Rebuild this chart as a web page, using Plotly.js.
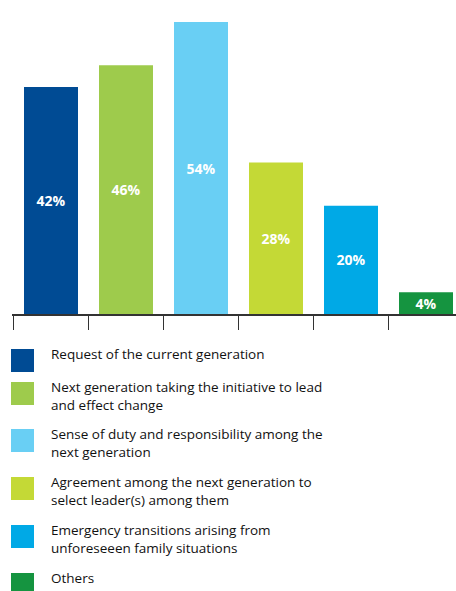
<!DOCTYPE html>
<html>
<head>
<meta charset="utf-8">
<script src="https://cdn.plot.ly/plotly-3.0.1.min.js"></script>
<style>
html,body{margin:0;padding:0;background:#fff;}
#chart{width:456px;height:591px;}
</style>
</head>
<body>
<div id="chart"></div>
<script>
const categories = [
  "Request of the current generation",
  "Next generation taking the initiative to lead<br>and effect change",
  "Sense of duty and responsibility among the<br>next generation",
  "Agreement among the next generation to<br>select leader(s) among them",
  "Emergency transitions arising from<br>unforeseeen family situations",
  "Others"
];
const values = [42, 46, 54, 28, 20, 4];
const valueLabels = ["42%", "46%", "54%", "28%", "20%", "4%"];
const colors = ["#004b94", "#9ecb4c", "#69cff4", "#c4d936", "#00a9e6", "#159440"];

const W = 456, H = 591, baseY = 314;
const idx = values.map((v, i) => i);

function py(p) { return (baseY - p) / baseY; } // pixel y -> paper y

const swatchTops = [349, 382, 429, 477, 525, 573];
const shapes = [], annotations = [];
categories.forEach((c, i) => {
  shapes.push({
    type: "rect", xref: "paper", yref: "paper",
    x0: (11 - 12) / (W - 12), x1: (34 - 12) / (W - 12),
    y0: py(swatchTops[i] + 23), y1: py(swatchTops[i]),
    fillcolor: colors[i], line: {width: 0}
  });
  annotations.push({
    xref: "paper", yref: "paper",
    x: (49 - 12) / (W - 12), y: py(swatchTops[i] - 6),
    xanchor: "left", yanchor: "top", align: "left",
    showarrow: false, text: c,
    font: {family: "Open Sans", size: 13.5, color: "#111"}
  });
});

const trace = {
  type: "bar",
  x: idx,
  y: values,
  width: 0.72,
  marker: {color: colors},
  text: valueLabels,
  textposition: "inside",
  insidetextanchor: "middle",
  textangle: 0,
  constraintext: "none",
  textfont: {family: "Open Sans", size: 14, color: "#fff", weight: "bold"},
  hoverinfo: "none"
};

const layout = {
  width: W, height: H,
  margin: {l: 12, r: 0, t: 0, b: H - baseY, pad: 0},
  paper_bgcolor: "#fff", plot_bgcolor: "#fff",
  showlegend: false,
  xaxis: {
    range: [-0.52, (W - 12) / 75 - 0.52],
    tickvals: [-0.5, 0.5, 1.5, 2.5, 3.5, 4.5],
    ticktext: ["", "", "", "", "", ""],
    ticks: "outside", ticklen: 14, tickwidth: 1.3, tickcolor: "#333",
    showline: true, linecolor: "#333", linewidth: 1.5,
    showgrid: false, zeroline: false, fixedrange: true
  },
  yaxis: {
    range: [0, 54 * baseY / 292],
    visible: false, showgrid: false, zeroline: false, fixedrange: true
  },
  shapes: shapes,
  annotations: annotations
};

Plotly.newPlot("chart", [trace], layout, {displayModeBar: false, staticPlot: true});
</script>
</body>
</html>
